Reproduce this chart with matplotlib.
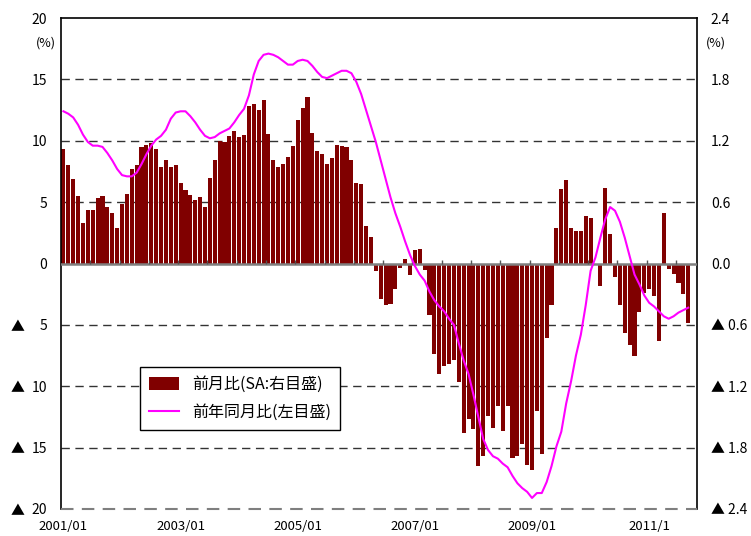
import matplotlib
matplotlib.use("Agg")
import matplotlib.pyplot as plt
from matplotlib.patches import Patch
from matplotlib.lines import Line2D
import matplotlib.transforms as mtransforms
import numpy as np

plt.rcParams['font.family'] = ['Noto Sans CJK JP', 'DejaVu Sans']

# Month-over-month change (SA, right axis, %), 2001/01 .. 2011/09
mom = [1.12, 0.96, 0.83, 0.66, 0.40, 0.52, 0.52, 0.64, 0.66, 0.55, 0.49, 0.35,
       0.58, 0.68, 0.92, 0.96, 1.14, 1.16, 1.18, 1.12, 0.94, 1.01, 0.94, 0.96,
       0.79, 0.72, 0.67, 0.62, 0.65, 0.55, 0.84, 1.01, 1.20, 1.19, 1.25, 1.30,
       1.24, 1.26, 1.54, 1.56, 1.50, 1.60, 1.27, 1.01, 0.94, 0.97, 1.04, 1.15,
       1.40, 1.52, 1.63, 1.28, 1.10, 1.07, 0.97, 1.03, 1.16, 1.15, 1.14, 1.01,
       0.79, 0.78, 0.37, 0.26, -0.07, -0.35, -0.41, -0.40, -0.25, -0.04, 0.04, -0.11,
       0.13, 0.14, -0.06, -0.50, -0.88, -1.08, -1.00, -0.98, -0.94, -1.16, -1.66, -1.52,
       -1.62, -1.98, -1.88, -1.49, -1.61, -1.39, -1.64, -1.39, -1.90, -1.88, -1.76, -1.97,
       -2.02, -1.44, -1.86, -0.73, -0.41, 0.35, 0.73, 0.82, 0.35, 0.32, 0.32, 0.46,
       0.44, 0.00, -0.22, 0.74, 0.29, -0.13, -0.41, -0.68, -0.80, -0.90, -0.47, -0.29,
       -0.25, -0.32, -0.76, 0.49, -0.05, -0.10, -0.19, -0.30, -0.58]

# Year-over-year change (left axis, %)
yoy = [12.4, 12.2, 11.9, 11.3, 10.5, 9.9, 9.6, 9.6, 9.5, 9.0, 8.4, 7.7,
       7.2, 7.1, 7.1, 7.4, 8.1, 8.9, 9.6, 10.1, 10.4, 10.9, 11.8, 12.3,
       12.4, 12.4, 12.0, 11.5, 10.9, 10.4, 10.2, 10.3, 10.6, 10.8, 11.0, 11.5,
       12.1, 12.6, 13.7, 15.4, 16.5, 17.0, 17.1, 17.0, 16.8, 16.5, 16.2, 16.2,
       16.5, 16.6, 16.5, 16.1, 15.6, 15.2, 15.1, 15.3, 15.5, 15.7, 15.7, 15.5,
       14.8, 13.8, 12.5, 11.2, 9.9, 8.4, 6.9, 5.4, 4.1, 3.0, 1.8, 0.7,
       -0.2, -0.9, -1.4, -2.3, -3.0, -3.5, -3.9, -4.5, -5.0, -6.5, -7.9, -9.0,
       -10.7, -12.5, -14.3, -15.2, -15.7, -15.9, -16.3, -16.6, -17.3, -17.9, -18.3, -18.6,
       -19.1, -18.7, -18.7, -17.8, -16.5, -14.9, -13.7, -11.4, -9.6, -7.5, -5.8, -3.4,
       -0.6, 0.5, 2.1, 3.6, 4.6, 4.3, 3.4, 2.1, 0.6, -0.9, -1.7, -2.6,
       -3.2, -3.5, -3.9, -4.3, -4.5, -4.3, -4.0, -3.8, -3.6]

xlabels = ['2001/01', '2003/01', '2005/01', '2007/01', '2009/01', '2011/1']
xlabel_pos = [0, 24, 48, 72, 96, 120]

left_ticks = [20, 15, 10, 5, 0, -5, -10, -15, -20]
left_labels = ['20', '15', '10', '5', '0', '5', '10', '15', '20']
right_ticks = [2.4, 1.8, 1.2, 0.6, 0.0, -0.6, -1.2, -1.8, -2.4]
right_labels = ['2.4', '1.8', '1.2', '0.6', '0.0', '▲ 0.6', '▲ 1.2', '▲ 1.8', '▲ 2.4']

legend_bar = '前月比(SA:右目盛)'
legend_line = '前年同月比(左目盛)'

W, H = 751, 536
fig = plt.figure(figsize=(W / 100, H / 100), dpi=100)
L, R, T, B = 61, 697, 18, 509
ax = fig.add_axes([L / W, 1 - B / H, (R - L) / W, (B - T) / H])
x = np.arange(len(mom))

# bars on right scale (main axes)
ax.set_ylim(-2.4, 2.4)
ax.set_xlim(-0.5, 129.8)
for v in [1.8, 1.2, 0.6, -0.6, -1.2, -1.8]:
    ax.axhline(v, color='#333333', lw=1.0, ls=(0, (6, 4)), zorder=0)
ax.axhline(-2.4, color='#7f7f7f', lw=1.5, ls=(0, (6, 4)), zorder=5, clip_on=False)
ax.bar(x, mom, width=0.84, color='#800000', zorder=2)
ax.axhline(0, color='#7f7f7f', lw=1.8, zorder=3)
ax.vlines(np.arange(5.5, 129, 6), 0, 0.035, color='#555555', lw=1.0, zorder=3)

for s in ['left', 'right', 'top']:
    ax.spines[s].set_color('black')
    ax.spines[s].set_linewidth(1.2)
ax.spines['bottom'].set_visible(False)

# line on left scale
ax2 = ax.twinx()
ax2.set_ylim(-20, 20)
ax2.plot(x, yoy, color='#ff00ff', lw=1.5, zorder=4)
for s in ax2.spines.values():
    s.set_visible(False)

ax.yaxis.tick_right()
ax.yaxis.set_label_position('right')
ax.set_yticks(right_ticks)
ax.set_yticklabels(right_labels, fontsize=10)
ax.tick_params(axis='y', length=0, pad=10)
ax.set_xticks(xlabel_pos)
ax.set_xticklabels(xlabels, fontsize=9.5)
ax.tick_params(axis='x', length=0, pad=8)

ax2.yaxis.tick_left()
ax2.yaxis.set_label_position('left')
ax2.set_yticks(left_ticks)
ax2.set_yticklabels(left_labels, fontsize=10)
ax2.tick_params(axis='y', length=0, pad=10)

# negative markers on the left scale, aligned in a fixed column
trans = mtransforms.blended_transform_factory(fig.transFigure, ax2.transData)
for v in left_ticks:
    if v < 0:
        ax2.text(18 / W, v - 0.15, '▲', transform=trans, fontsize=10,
                 ha='center', va='center', clip_on=False)

fig.text(46 / W, 1 - 43 / H, '(%)', fontsize=9, ha='center', va='center')
fig.text(716 / W, 1 - 43 / H, '(%)', fontsize=9, ha='center', va='center')

handles = [Patch(facecolor='#800000', edgecolor='none'),
           Line2D([0], [0], color='#ff00ff', lw=1.5)]
leg = ax2.legend(handles, [legend_bar, legend_line], loc='upper left',
                 bbox_to_anchor=((140 - L) / (R - L), (B - 367) / (B - T)),
                 fontsize=11.5, frameon=True, fancybox=False, framealpha=1,
                 edgecolor='black', borderpad=0.55, handlelength=1.9,
                 handleheight=0.9, labelspacing=0.7, borderaxespad=0)
leg.get_frame().set_linewidth(1.0)

fig.savefig('out.png', dpi=100)
